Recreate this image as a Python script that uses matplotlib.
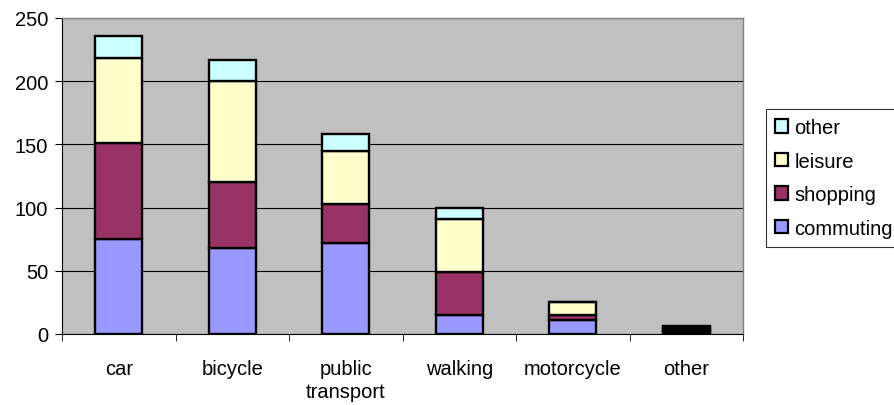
import matplotlib
matplotlib.use("Agg")
import matplotlib.pyplot as plt
import numpy as np

categories = ["car", "bicycle", "public\ntransport", "walking", "motorcycle", "other"]
series_names = ["commuting", "shopping", "leisure", "other"]
commuting = [75, 68, 72, 15, 11, 1.5]
shopping = [76, 52, 31, 34, 4, 1.5]
leisure = [67, 80, 42, 42, 10, 1.5]
other = [18, 17, 13, 9, 0, 1.5]
colors = ["#9999FF", "#993366", "#FFFFCC", "#CCFFFF"]
yticks = [0, 50, 100, 150, 200, 250]

plt.rcParams['font.family'] = ['Liberation Sans', 'DejaVu Sans']
FS = 14.5

fig = plt.figure(figsize=(8.95, 4.06), dpi=100)
ax = fig.add_axes([62/895, 1-335/406, (743-62)/895, (335-19)/406])
ax.set_facecolor("#C0C0C0")

x = np.arange(len(categories))
bottom = np.zeros(len(categories))
handles = []
for name, vals, c in zip(series_names, [commuting, shopping, leisure, other], colors):
    vals = np.array(vals, dtype=float)
    b = ax.bar(x, vals, width=0.41, bottom=bottom, color=c, edgecolor="black",
               linewidth=1.7, label=name, zorder=3)
    handles.append(b)
    bottom += vals

ax.set_xlim(-0.5, len(categories) - 0.5)
ax.set_ylim(0, 250)
ax.set_yticks(yticks)
ax.yaxis.grid(True, color="black", linewidth=0.8, zorder=0)
ax.set_axisbelow(True)

ax.set_xticks(x)
ax.set_xticklabels(categories, fontsize=FS, linespacing=1.3)
ax.tick_params(axis="x", which="major", length=0, pad=18)
ax.set_xticks(np.arange(-0.5, len(categories) + 0.5, 1), minor=True)
ax.tick_params(axis="x", which="minor", length=5, direction="out", color="black")
ax.tick_params(axis="y", length=5, direction="out", labelsize=FS, pad=5)

for s in ["top", "right"]:
    ax.spines[s].set_color("#808080")
    ax.spines[s].set_linewidth(1.0)
ax.spines["left"].set_color("black")
ax.spines["bottom"].set_color("black")

leg = fig.legend(handles[::-1], series_names[::-1], loc="upper left",
                 bbox_to_anchor=(766/895, 1-110/406), fontsize=FS,
                 frameon=True, fancybox=False, edgecolor="black",
                 handlelength=0.65, handleheight=0.65, handletextpad=0.3,
                 borderpad=0.45, labelspacing=0.72, borderaxespad=0)
leg.get_frame().set_linewidth(0.8)
for h in leg.legend_handles:
    h.set_linewidth(1.6)

fig.savefig("out.png", dpi=100)
